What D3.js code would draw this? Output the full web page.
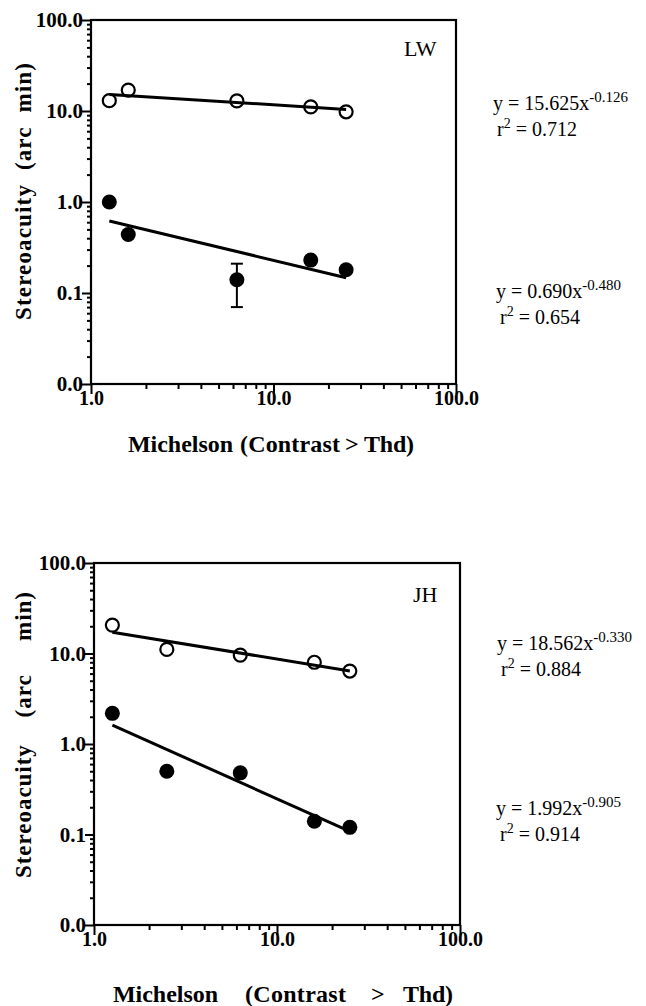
<!DOCTYPE html>
<html>
<head>
<meta charset="utf-8">
<script src="https://cdn.jsdelivr.net/npm/d3@7"></script>
<style>
  body { margin: 0; background: #fff; }
  svg { display: block; }
  text { font-family: "Liberation Serif", "Times New Roman", serif; fill: #000; }
</style>
</head>
<body>
<svg id="chart" width="646" height="1006"></svg>
<script>
// axis values
const xTicks = [1, 10, 100];
const yTicks = [0.01, 0.1, 1, 10, 100];

// LW (top panel)
const lwContrast = [1.26, 1.6, 6.3, 16, 25];
const lwOpen = [13.0, 17.0, 12.9, 11.1, 9.8];
const lwFilled = [1.0, 0.44, 0.14, 0.23, 0.18];
const lwError = [{ x: 6.3, lo: 0.07, hi: 0.21 }];
const lwOpenFit = { a: 15.625, b: -0.126, r2: "0.712" };
const lwFilledFit = { a: 0.690, b: -0.480, r2: "0.654" };

// JH (bottom panel)
const jhContrast = [1.26, 2.5, 6.3, 16, 25];
const jhOpen = [20.6, 11.1, 9.6, 8.0, 6.4];
const jhFilled = [2.18, 0.50, 0.48, 0.14, 0.12];
const jhError = [];
const jhOpenFit = { a: 18.562, b: -0.330, r2: "0.884" };
const jhFilledFit = { a: 1.992, b: -0.905, r2: "0.914" };

const svg = d3.select("#chart");
const fmt = d3.format(".1f");

// x title words: [text, start, length]
const panels = [
  {
    name: "LW", left: 91, right: 456, top: 20, bottom: 384,
    contrast: lwContrast, open: lwOpen, filled: lwFilled, err: lwError,
    openFit: lwOpenFit, filledFit: lwFilledFit,
    eqOpen: { x: 493, y: 110 }, eqFilled: { x: 496, y: 298 },
    nameY: 56, nameX: 404,
    yTitle: { text: "Stereoacuity  (arc  min)", from: 320, to: 63 },
    xTitleY: 452,
    xTitle: [["Michelson", 128, 105], ["(Contrast", 240, 100], [">", 345, 14], ["Thd)", 364, 50]]
  },
  {
    name: "JH", left: 94, right: 460, top: 563, bottom: 925,
    contrast: jhContrast, open: jhOpen, filled: jhFilled, err: jhError,
    openFit: jhOpenFit, filledFit: jhFilledFit,
    eqOpen: { x: 497, y: 650 }, eqFilled: { x: 496, y: 815 },
    nameY: 602, nameX: 413,
    yTitle: { text: "Stereoacuity    (arc     min)", from: 878, to: 592 },
    xTitleY: 1002,
    xTitle: [["Michelson", 113, 105], ["(Contrast", 245, 101], [">", 371, 13], ["Thd)", 403, 50]]
  }
];

function drawPanel(p) {
  const x = d3.scaleLog().domain([1, 100]).range([p.left, p.right]);
  const y = d3.scaleLog().domain([0.01, 100]).range([p.bottom, p.top]);
  const g = svg.append("g");

  // minor ticks
  g.append("g")
    .attr("transform", `translate(0,${p.bottom})`)
    .call(d3.axisBottom(x).tickValues(x.ticks().filter(v => xTicks.indexOf(v) < 0)).tickSize(5).tickFormat(""));
  g.append("g")
    .attr("transform", `translate(${p.left},0)`)
    .call(d3.axisLeft(y).tickValues(y.ticks().filter(v => yTicks.indexOf(v) < 0)).tickSize(4).tickFormat(""));

  // major ticks + labels
  const xa = g.append("g")
    .attr("transform", `translate(0,${p.bottom})`)
    .call(d3.axisBottom(x).tickValues(xTicks).tickSize(10).tickPadding(-3).tickFormat(fmt));
  const ya = g.append("g")
    .attr("transform", `translate(${p.left},0)`)
    .call(d3.axisLeft(y).tickValues(yTicks).tickSize(9).tickPadding(-1).tickFormat(fmt));

  g.selectAll(".domain").remove();
  g.selectAll(".tick line").attr("stroke", "#000").attr("stroke-width", 2);
  [xa, ya].forEach(a => a.attr("font-family", null).attr("font-size", null));
  xa.selectAll("text").style("font-size", "20px").style("font-weight", "bold");
  ya.selectAll("text").style("font-size", "21px").style("font-weight", "bold");

  // frame
  g.append("rect")
    .attr("x", p.left).attr("y", p.top)
    .attr("width", p.right - p.left).attr("height", p.bottom - p.top)
    .attr("fill", "none").attr("stroke", "#000").attr("stroke-width", 2.2);

  // fit lines
  const line = d3.line().x(d => x(d[0])).y(d => y(d[1]));
  const ends = d3.extent(p.contrast);
  [p.openFit, p.filledFit].forEach(f => {
    g.append("path")
      .datum(ends.map(c => [c, f.a * Math.pow(c, f.b)]))
      .attr("d", line)
      .attr("fill", "none").attr("stroke", "#000").attr("stroke-width", 3);
  });

  // error bars
  const eb = g.selectAll(".err").data(p.err).enter().append("g");
  eb.append("line")
    .attr("x1", d => x(d.x)).attr("x2", d => x(d.x))
    .attr("y1", d => y(d.lo)).attr("y2", d => y(d.hi))
    .attr("stroke", "#000").attr("stroke-width", 2);
  ["lo", "hi"].forEach(k => {
    eb.append("line")
      .attr("x1", d => x(d.x) - 6).attr("x2", d => x(d.x) + 6)
      .attr("y1", d => y(d[k])).attr("y2", d => y(d[k]))
      .attr("stroke", "#000").attr("stroke-width", 2);
  });

  // points
  g.selectAll(".open").data(p.open).enter().append("circle")
    .attr("cx", (d, i) => x(p.contrast[i])).attr("cy", d => y(d))
    .attr("r", 6.5).attr("fill", "none").attr("stroke", "#000").attr("stroke-width", 2.2);
  g.selectAll(".filled").data(p.filled).enter().append("circle")
    .attr("cx", (d, i) => x(p.contrast[i])).attr("cy", d => y(d))
    .attr("r", 7.5).attr("fill", "#000");

  // panel name
  g.append("text").attr("x", p.nameX).attr("y", p.nameY)
    .style("font-size", "22px").text(p.name);

  // equations
  [[p.openFit, p.eqOpen], [p.filledFit, p.eqFilled]].forEach(([f, pos]) => {
    const t1 = g.append("text").attr("x", pos.x).attr("y", pos.y).style("font-size", "20px");
    t1.append("tspan").text(`y = ${f.a.toFixed(3)}x`);
    t1.append("tspan").attr("dy", -8).style("font-size", "15px").text(f.b.toFixed(3));
    const t2 = g.append("text").attr("x", pos.x + 4).attr("y", pos.y + 26).style("font-size", "20px");
    t2.append("tspan").text("r");
    t2.append("tspan").attr("dy", -8).style("font-size", "14px").text("2");
    t2.append("tspan").attr("dy", 8).text(` = ${f.r2}`);
  });

  // axis titles
  g.append("text")
    .attr("transform", `translate(31,${p.yTitle.from}) rotate(-90)`)
    .attr("textLength", p.yTitle.from - p.yTitle.to).attr("lengthAdjust", "spacing")
    .style("white-space", "pre")
    .style("font-size", "23px").style("font-weight", "bold")
    .text(p.yTitle.text);
  const xt = g.append("text").attr("y", p.xTitleY)
    .style("font-size", "24px").style("font-weight", "bold");
  p.xTitle.forEach(w => {
    xt.append("tspan").attr("x", w[1]).attr("textLength", w[2]).attr("lengthAdjust", "spacing").text(w[0]);
  });
}

panels.forEach(drawPanel);
</script>
</body>
</html>
